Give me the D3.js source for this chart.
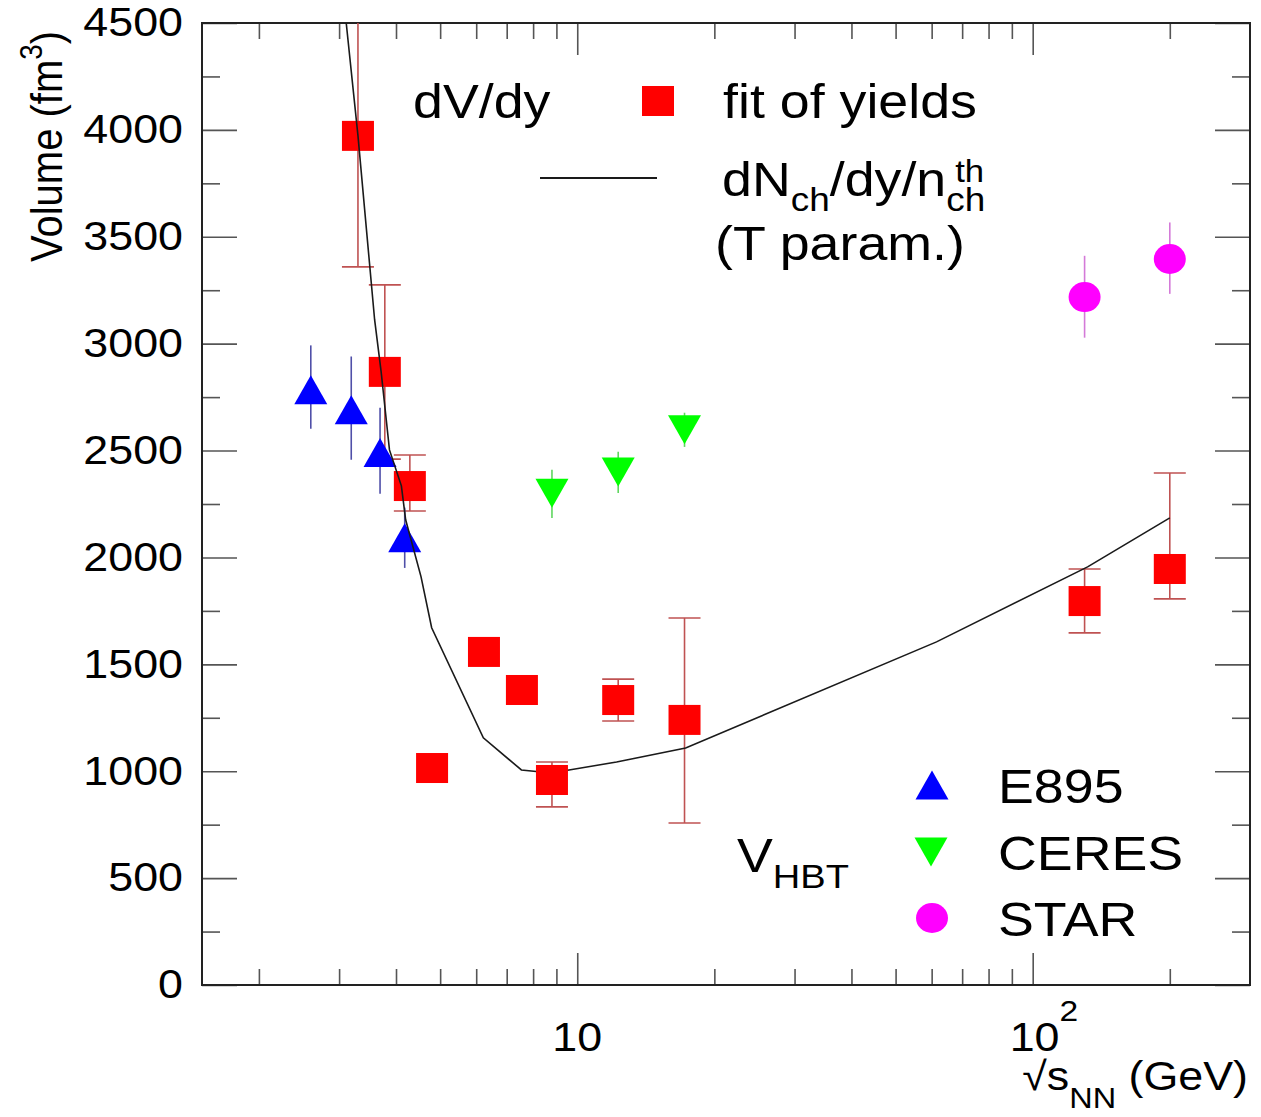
<!DOCTYPE html>
<html>
<head>
<meta charset="utf-8">
<script src="https://cdn.jsdelivr.net/npm/d3@7"></script>
<style>
  body { margin: 0; background: #fff; }
  svg { display: block; }
  text { font-family: "Liberation Sans", Arial, Helvetica, sans-serif; fill: #000; }
</style>
</head>
<body>
<svg id="chart" width="1261" height="1117"></svg>
<script>
"use strict";

// fit of yields (red squares), with error bar ends
let fitX  = [3.30, 3.78, 4.29, 4.80, 6.24, 7.56, 8.80, 12.3, 17.2, 130, 200];
let fitY  = [3972, 2868, 2334, 1015, 1558, 1380, 959, 1333, 1240, 1796, 1946];
let fitLo = [3359, 2460, 2217, 1015, 1558, 1380, 833, 1235, 758, 1647, 1806];
let fitHi = [4620, 3275, 2479, 1015, 1558, 1380, 1043, 1431, 1717, 1946, 2395];

// dNch/dy / nch^th (T param.) curve
let curveX = [3.00, 3.11, 3.30, 3.59, 3.71, 3.87, 4.11, 4.20, 4.54, 4.79, 6.22, 7.54, 8.77, 12.2, 17.3, 61.5, 132, 200];
let curveY = [4900, 4500, 3973, 3112, 2869, 2503, 2335, 2176, 1909, 1671, 1156, 1006, 992, 1043, 1109, 1605, 1956, 2185];

// V_HBT: E895 (blue), CERES (green), STAR (magenta)
let e895X  = [2.60, 3.19, 3.69, 4.18];
let e895Y  = [2784, 2691, 2491, 2092];
let e895Lo = [2602, 2457, 2298, 1951];
let e895Hi = [2992, 2940, 2700, 2233];

let ceresX  = [8.80, 12.3, 17.2];
let ceresY  = [2300, 2400, 2597];
let ceresLo = [2185, 2302, 2517];
let ceresHi = [2410, 2494, 2677];

let starX  = [130, 200];
let starY  = [3218, 3396];
let starLo = [3028, 3233];
let starHi = [3411, 3567];

// ticks
let yTicks = [0, 500, 1000, 1500, 2000, 2500, 3000, 3500, 4000, 4500];
let yMinor = [250, 750, 1250, 1750, 2250, 2750, 3250, 3750, 4250];
let xTicks = [10, 100];
let xMinor = [2, 3, 4, 5, 6, 7, 8, 9, 20, 30, 40, 50, 60, 70, 80, 90, 200];

let SX = 1.12;   // picture is slightly stretched sideways
let FONT = '"Liberation Sans", Arial, Helvetica, sans-serif';

let svg = d3.select('#chart');

let x = d3.scaleLog().domain([1.5, 300]).range([202, 1250]);
let y = d3.scaleLinear().domain([0, 4500]).range([985, 23]);

let zip = (xs, ys, lo, hi) => xs.map((v, i) => ({x: v, y: ys[i], lo: lo ? lo[i] : null, hi: hi ? hi[i] : null, i: i}));
let fit = zip(fitX, fitY, fitLo, fitHi);
let e895 = zip(e895X, e895Y, e895Lo, e895Hi);
let ceres = zip(ceresX, ceresY, ceresLo, ceresHi);
let star = zip(starX, starY, starLo, starHi);

svg.append('clipPath').attr('id', 'plotclip')
  .append('rect')
  .attr('x', x.range()[0]).attr('y', y.range()[1])
  .attr('width', x.range()[1] - x.range()[0])
  .attr('height', y.range()[0] - y.range()[1]);

// axes, ticks on all four sides pointing inward
let styleAxis = g => {
  g.select('.domain').remove();
  g.selectAll('.tick line').attr('stroke', '#555').attr('stroke-width', 1.6);
  g.attr('font-family', FONT);
};

let addAxis = (axis, tx, ty) => svg.append('g')
  .attr('transform', 'translate(' + tx + ',' + ty + ')')
  .call(axis)
  .call(styleAxis);

addAxis(d3.axisBottom(x).tickValues(xMinor).tickSize(-16).tickFormat(''), 0, y(0));
addAxis(d3.axisBottom(x).tickValues(xTicks).tickSize(-32).tickFormat(''), 0, y(0));
addAxis(d3.axisTop(x).tickValues(xMinor).tickSize(-16).tickFormat(''), 0, y(4500));
addAxis(d3.axisTop(x).tickValues(xTicks).tickSize(-32).tickFormat(''), 0, y(4500));
addAxis(d3.axisRight(y).tickValues(yMinor).tickSize(-18).tickFormat(''), x(300), 0);
addAxis(d3.axisRight(y).tickValues(yTicks).tickSize(-35).tickFormat(''), x(300), 0);
addAxis(d3.axisLeft(y).tickValues(yMinor).tickSize(-18).tickFormat(''), x(1.5), 0);

let yAxisG = addAxis(d3.axisLeft(y).tickValues(yTicks).tickSize(-35).tickPadding(17).tickFormat(d3.format('d')), x(1.5), 0);
yAxisG.attr('font-size', 40);
yAxisG.selectAll('.tick text')
  .attr('fill', '#000')
  .attr('transform', 'scale(' + SX + ',1)');

// frame
svg.append('rect')
  .attr('x', x(1.5)).attr('y', y(4500))
  .attr('width', x(300) - x(1.5)).attr('height', y(0) - y(4500))
  .attr('fill', 'none').attr('stroke', '#222').attr('stroke-width', 2);

// text with sub/superscripts; parts: {t, size, rise}
function richText(x0, y0, parts, size, anchor) {
  let g = svg.append('g')
    .attr('transform', 'translate(' + x0 + ',' + y0 + ') scale(' + SX + ',1)');
  let t = g.append('text').attr('font-size', size).attr('text-anchor', anchor || 'start');
  let prev = 0;
  parts.forEach(p => {
    let rise = p.rise || 0;
    t.append('tspan')
      .attr('font-size', p.size || size)
      .attr('dy', rise - prev)
      .text(p.t);
    prev = rise;
  });
  return {g: g, t: t};
}

// x tick labels
xTicks.forEach(v => {
  if (v === 10) {
    richText(x(v), 1051, [{t: '10'}], 40, 'middle');
  } else {
    richText(x(v) - 23, 1051, [{t: '10'}, {t: '2', size: 30, rise: -30}], 40, 'start');
  }
});

// axis titles
richText(1248, 1090, [{t: '\u221As'}, {t: 'NN', size: 29, rise: 18}, {t: ' (GeV)', rise: 0}], 40, 'end');

svg.append('g')
  .attr('transform', 'translate(62,262) scale(' + SX + ',1) rotate(-90)')
  .append('text')
  .attr('font-size', 40)
  .call(t => {
    t.append('tspan').text('Volume (fm');
    t.append('tspan').attr('font-size', 28).attr('dy', -18).text('3');
    t.append('tspan').attr('dy', 18).text(')');
  });

// markers
let errColor = {fit: '#bf5252', e895: '#4f4fa8', ceres: '#5fd65f', star: '#d47ad8'};

let plot = svg.append('g').attr('clip-path', 'url(#plotclip)');

let drawErr = (data, color, cap) => {
  let bars = data.filter(d => y(d.lo) - y(d.hi) > 30);
  plot.append('g').selectAll('line')
    .data(bars).enter().append('line')
    .attr('x1', d => x(d.x)).attr('x2', d => x(d.x))
    .attr('y1', d => y(d.lo)).attr('y2', d => y(d.hi))
    .attr('stroke', color).attr('stroke-width', 1.6);
  if (cap) {
    ['lo', 'hi'].forEach(k => {
      plot.append('g').selectAll('line')
        .data(bars).enter().append('line')
        .attr('x1', d => x(d.x) - cap / 2).attr('x2', d => x(d.x) + cap / 2)
        .attr('y1', d => y(d[k])).attr('y2', d => y(d[k]))
        .attr('stroke', color).attr('stroke-width', 1.6);
    });
  }
};

let triPath = (cx, cy, w, h, up) => {
  let s = up ? 1 : -1;
  return 'M' + (cx - w / 2) + ',' + (cy + s * h / 2) +
    'L' + (cx + w / 2) + ',' + (cy + s * h / 2) +
    'L' + cx + ',' + (cy - s * h / 2) + 'Z';
};

let drawSquares = (sel, data) => sel.selectAll('rect')
  .data(data).enter().append('rect')
  .attr('x', d => x(d.x) - 16).attr('y', d => y(d.y) - 15)
  .attr('width', 32).attr('height', 30)
  .attr('fill', '#ff0000');

drawErr(fit, errColor.fit, 32);
drawErr(e895, errColor.e895, 0);
drawErr(ceres, errColor.ceres, 0);
drawErr(star, errColor.star, 0);

drawSquares(plot.append('g'), fit.filter(d => d.i < 3));

plot.append('g').selectAll('path')
  .data(e895).enter().append('path')
  .attr('d', d => triPath(x(d.x), y(d.y), 33, 29, true))
  .attr('fill', '#0000ff');

let line = d3.line().x(d => x(d[0])).y(d => y(d[1]));
plot.append('path')
  .datum(curveX.map((v, i) => [v, curveY[i]]))
  .attr('d', line)
  .attr('fill', 'none').attr('stroke', '#1a1a1a').attr('stroke-width', 1.6);

drawSquares(plot.append('g'), fit.filter(d => d.i >= 3));

plot.append('g').selectAll('path')
  .data(ceres).enter().append('path')
  .attr('d', d => triPath(x(d.x), y(d.y), 33, 29, false))
  .attr('fill', '#00ff00');

plot.append('g').selectAll('ellipse')
  .data(star).enter().append('ellipse')
  .attr('cx', d => x(d.x)).attr('cy', d => y(d.y))
  .attr('rx', 16).attr('ry', 15)
  .attr('fill', '#ff00ff');

// legend: dV/dy
richText(413, 118, [{t: 'dV/dy'}], 48);
svg.append('rect').attr('x', 642).attr('y', 86).attr('width', 32).attr('height', 30).attr('fill', '#ff0000');
richText(723, 118, [{t: 'fit of yields'}], 48);
svg.append('line').attr('x1', 540).attr('x2', 657).attr('y1', 178).attr('y2', 178)
  .attr('stroke', '#1a1a1a').attr('stroke-width', 1.8);
let dn = richText(722, 196, [
  {t: 'dN'}, {t: 'ch', size: 33, rise: 15}, {t: '/dy/n', rise: 0}, {t: 'ch', size: 33, rise: 15}
], 48);
let thX = dn.t.node().getStartPositionOfChar(9).x;
dn.g.append('text').attr('font-size', 31).attr('x', thX + 8).attr('y', -14).text('th');
richText(715, 260, [{t: '(T param.)'}], 48);

// legend: V_HBT
richText(737, 872, [{t: 'V'}, {t: 'HBT', size: 34, rise: 16}], 48);
svg.append('path').attr('d', triPath(932, 785, 33, 29, true)).attr('fill', '#0000ff');
svg.append('path').attr('d', triPath(931, 852, 33, 29, false)).attr('fill', '#00ff00');
svg.append('ellipse').attr('cx', 932).attr('cy', 918).attr('rx', 16).attr('ry', 15).attr('fill', '#ff00ff');
richText(998, 803, [{t: 'E895'}], 48);
richText(998, 870, [{t: 'CERES'}], 48);
richText(998, 936, [{t: 'STAR'}], 48);
</script>
</body>
</html>
